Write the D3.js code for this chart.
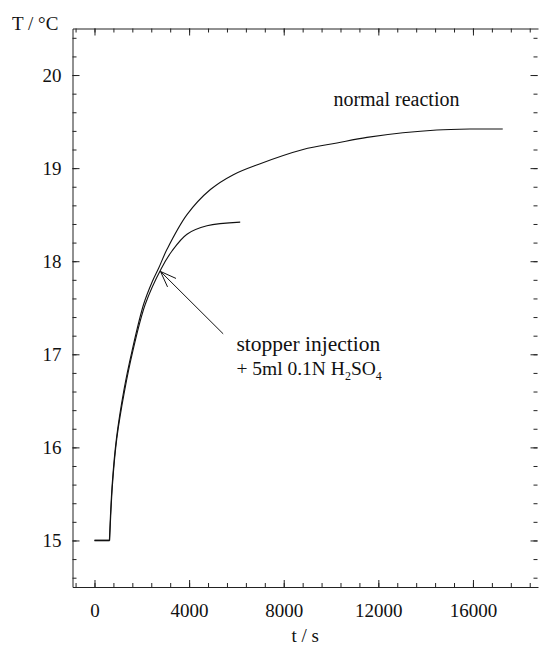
<!DOCTYPE html>
<html>
<head>
<meta charset="utf-8">
<script src="https://cdn.jsdelivr.net/npm/d3@7"></script>
<style>
	body { margin: 0; background: #fff; }
	svg { display: block; }
	text { font-family: "Liberation Serif", "DejaVu Serif", serif; fill: #111; }
</style>
</head>
<body>
<div id="chart"></div>
<script>
//////////////////////////// data /////////////////////////////////////////

// normal reaction: time (s) and temperature (°C)
const normalTime = [0, 630, 750, 930, 1240, 1590, 2080, 2440, 2720, 3070, 3910, 4900, 5870, 6920, 8820, 10250, 11520, 13040, 14470, 15870, 17260];
const normalTemp = [15, 15, 15.61, 16.1, 16.61, 17.04, 17.54, 17.78, 17.93, 18.13, 18.5, 18.77, 18.93, 19.04, 19.2, 19.27, 19.33, 19.38, 19.41, 19.42, 19.42];

// stopper injection run
const stopperTime = [0, 640, 760, 945, 1265, 1625, 2150, 2820, 3277, 3910, 4755, 6160];
const stopperTemp = [15, 15, 15.6, 16.1, 16.6, 17.04, 17.54, 17.92, 18.11, 18.29, 18.38, 18.42];

const xTicks = [0, 4000, 8000, 12000, 16000];
const yTicks = [15, 16, 17, 18, 19, 20];

// annotation anchors (data coords)
const arrowFrom = [5440, 17.22];
const arrowTo = [2790, 17.89];

//////////////////////////// sizes ////////////////////////////////////////

const width = 539;
const height = 652;
const margin = { top: 28.5, right: 1, bottom: 65, left: 72.5 };

const svg = d3.select("#chart").append("svg")
	.attr("width", width)
	.attr("height", height);

//////////////////////////// scales ///////////////////////////////////////

const x = d3.scaleLinear()
	.domain([-930, 18750])
	.range([margin.left, width - margin.right]);

const y = d3.scaleLinear()
	.domain([14.5, 20.5])
	.range([height - margin.bottom, margin.top]);

const xMinor = d3.range(-800, 18750, 800);
const yMinor = d3.range(14.6, 20.5, 0.2).map(v => +v.toFixed(1));

//////////////////////////// axes /////////////////////////////////////////

const axisStyle = (g) => {
	g.selectAll("path.domain").attr("stroke", "#222").attr("stroke-width", 1);
	g.selectAll(".tick line").attr("stroke", "#222");
	g.selectAll(".tick text")
		.style("font-size", "19px")
		.attr("fill", "#111");
};

// minor ticks first (no labels)
svg.append("g")
	.attr("transform", `translate(0,${y.range()[0]})`)
	.call(d3.axisBottom(x).tickValues(xMinor).tickSizeInner(-4).tickSizeOuter(0).tickFormat(""))
	.call(g => g.select(".domain").remove())
	.call(axisStyle);
svg.append("g")
	.attr("transform", `translate(0,${y.range()[1]})`)
	.call(d3.axisTop(x).tickValues(xMinor).tickSizeInner(-4).tickSizeOuter(0).tickFormat(""))
	.call(g => g.select(".domain").remove())
	.call(axisStyle);
svg.append("g")
	.attr("transform", `translate(${x.range()[0]},0)`)
	.call(d3.axisLeft(y).tickValues(yMinor).tickSizeInner(-4).tickSizeOuter(0).tickFormat(""))
	.call(g => g.select(".domain").remove())
	.call(axisStyle);
svg.append("g")
	.attr("transform", `translate(${x.range()[1] - 0.5},0)`)
	.call(d3.axisRight(y).tickValues(yMinor).tickSizeInner(-4).tickSizeOuter(0).tickFormat(""))
	.call(g => g.select(".domain").remove())
	.call(axisStyle);

// major ticks
svg.append("g")
	.attr("transform", `translate(0,${y.range()[0]})`)
	.call(d3.axisBottom(x).tickValues(xTicks).tickSizeInner(-7).tickSizeOuter(0).tickPadding(17).tickFormat(d3.format("d")))
	.call(axisStyle);
svg.append("g")
	.attr("transform", `translate(0,${y.range()[1]})`)
	.call(d3.axisTop(x).tickValues(xTicks).tickSizeInner(-7).tickSizeOuter(0).tickFormat(""))
	.call(axisStyle);
svg.append("g")
	.attr("transform", `translate(${x.range()[0]},0)`)
	.call(d3.axisLeft(y).tickValues(yTicks).tickSizeInner(-7).tickSizeOuter(0).tickPadding(11).tickFormat(d3.format("d")))
	.call(axisStyle);
svg.append("g")
	.attr("transform", `translate(${x.range()[1] - 0.5},0)`)
	.call(d3.axisRight(y).tickValues(yTicks).tickSizeInner(-7).tickSizeOuter(0).tickFormat(""))
	.call(g => g.select(".domain").remove())
	.call(axisStyle);

// axis titles
svg.append("text")
	.attr("x", 12)
	.attr("y", 30)
	.style("font-size", "19px")
	.text("T / °C");

svg.append("text")
	.attr("x", (x.range()[0] + x.range()[1]) / 2)
	.attr("y", 642)
	.attr("text-anchor", "middle")
	.style("font-size", "19px")
	.text("t / s");

//////////////////////////// lines ////////////////////////////////////////

const smooth = d3.line()
	.x(d => x(d[0]))
	.y(d => y(d[1]))
	.curve(d3.curveCatmullRom.alpha(0.5));

const straight = d3.line()
	.x(d => x(d[0]))
	.y(d => y(d[1]));

const normal = normalTime.map((t, i) => [t, normalTemp[i]]);
const stopper = stopperTime.map((t, i) => [t, stopperTemp[i]]);

[normal, stopper].forEach(series => {
	// flat baseline before the start, then the smooth rise
	svg.append("path")
		.datum(series.slice(0, 2))
		.attr("d", straight)
		.attr("fill", "none")
		.attr("stroke", "#111")
		.attr("stroke-width", 1.4);
	svg.append("path")
		.datum(series.slice(1))
		.attr("d", smooth)
		.attr("fill", "none")
		.attr("stroke", "#111")
		.attr("stroke-width", 1.1);
});

//////////////////////////// annotation ///////////////////////////////////

const x0 = x(arrowFrom[0]), y0 = y(arrowFrom[1]);
const x1 = x(arrowTo[0]), y1 = y(arrowTo[1]);
const ang = Math.atan2(y1 - y0, x1 - x0);
const headLen = 17, headAng = 0.36;

svg.append("line")
	.attr("x1", x0).attr("y1", y0)
	.attr("x2", x1).attr("y2", y1)
	.attr("stroke", "#111").attr("stroke-width", 1);

[-headAng, headAng].forEach(a => {
	svg.append("line")
		.attr("x1", x1).attr("y1", y1)
		.attr("x2", x1 - headLen * Math.cos(ang + a))
		.attr("y2", y1 - headLen * Math.sin(ang + a))
		.attr("stroke", "#111").attr("stroke-width", 1);
});

svg.append("text")
	.attr("x", x(6000))
	.attr("y", y(17.04))
	.style("font-size", "21.5px")
	.text("stopper injection");

const acid = svg.append("text")
	.attr("x", x(6000))
	.attr("y", y(16.78))
	.style("font-size", "19.5px");
acid.append("tspan").text("+ 5ml 0.1N H");
acid.append("tspan").attr("dy", 5).style("font-size", "12px").text("2");
acid.append("tspan").attr("dy", -5).text("SO");
acid.append("tspan").attr("dy", 5).style("font-size", "12px").text("4");

svg.append("text")
	.attr("x", x(10100))
	.attr("y", y(19.67))
	.style("font-size", "20px")
	.text("normal reaction");
</script>
</body>
</html>
